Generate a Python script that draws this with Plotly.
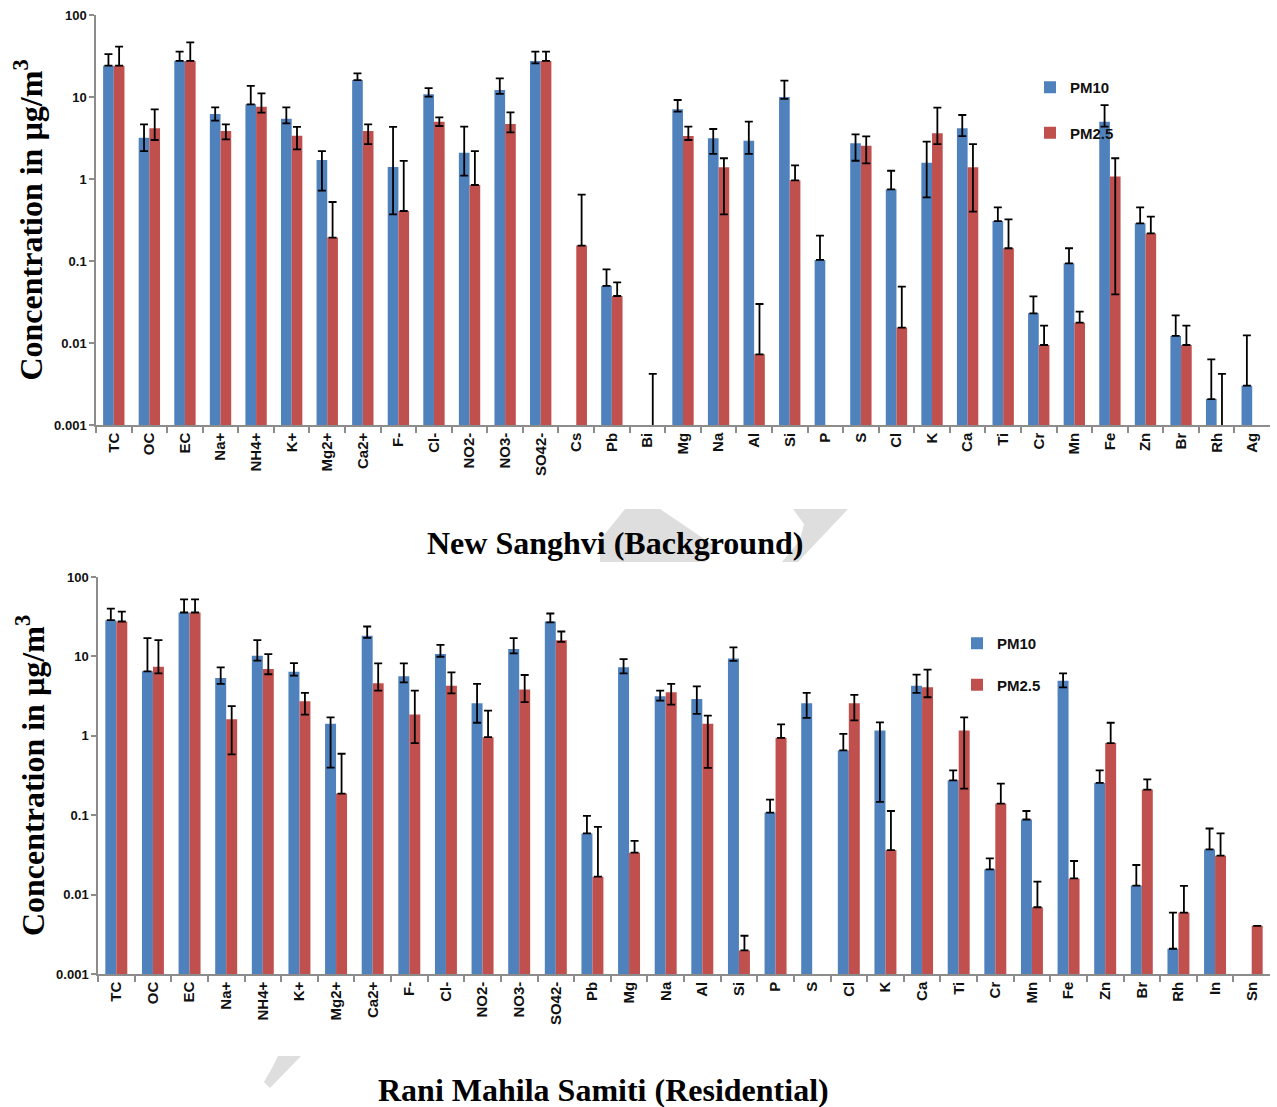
import plotly.graph_objects as go

# ---------------- data: New Sanghvi (Background) ----------------
cats_top = ["TC", "OC", "EC", "Na+", "NH4+", "K+", "Mg2+", "Ca2+", "F-", "Cl-",
            "NO2-", "NO3-", "SO42-", "Cs", "Pb", "Bi", "Mg", "Na", "Al", "Si",
            "P", "S", "Cl", "K", "Ca", "Ti", "Cr", "Mn", "Fe", "Zn", "Br", "Rh", "Ag"]

top_pm10 = [24.1, 3.19, 27.5, 6.21, 8.14, 5.44, 1.71, 16.1, 1.40, 10.8,
            2.09, 12.2, 27.5, None, 0.0496, None, 7.08, 3.13, 2.93, 10.0,
            0.103, 2.72, 0.748, 1.58, 4.15, 0.307, 0.023, 0.0937, 5.0, 0.288, 0.0122, 0.00207, 0.00302]
top_pm10_hi = [33.4, 4.64, 35.7, 7.48, 13.7, 7.48, 2.19, 19.4, 4.31, 12.8,
               4.35, 16.9, 35.7, None, 0.0791, None, 9.19, 4.07, 5.0, 15.8,
               0.204, 3.51, 1.26, 2.85, 6.03, 0.451, 0.0371, 0.143, 7.98, 0.451, 0.0217, 0.00632, 0.0124]
top_pm10_lo = [None, 2.19, None, 5.14, None, 4.78, 0.72, None, 0.371, 10.1,
               1.10, 10.9, 25.7, None, None, None, 6.62, 2.02, 2.02, 9.5,
               None, 1.67, None, 0.598, 3.34, None, None, None, 4.35, None, None, None, None]

top_pm25 = [24.1, 4.15, 27.5, 3.85, 7.62, 3.38, 0.193, 3.85, 0.407, 5.0,
            0.845, 4.69, 27.5, 0.154, 0.0374, 0.0005, 3.34, 1.39, 0.00727, 0.964,
            None, 2.55, 0.0154, 3.61, 1.39, 0.143, 0.00946, 0.0177, 1.07, 0.217, 0.00946, 0.0005, None]
top_pm25_hi = [41.1, 7.08, 46.4, 4.64, 11.1, 4.31, 0.524, 4.64, 1.66, 5.65,
               2.19, 6.5, 35.7, 0.644, 0.055, 0.0042, 4.35, 1.79, 0.0299, 1.47,
               None, 3.31, 0.0486, 7.41, 2.67, 0.322, 0.0163, 0.0241, 1.79, 0.347, 0.0163, 0.0042, None]
top_pm25_lo = [None, 2.99, None, 3.05, 6.44, 2.30, None, 2.67, None, 4.43,
               None, 3.71, None, None, None, None, 2.99, 0.371, None, None,
               None, 1.55, None, 2.67, 0.40, None, None, None, 0.0392, None, None, None, None]

# ---------------- data: Rani Mahila Samiti (Residential) ----------------
cats_bot = ["TC", "OC", "EC", "Na+", "NH4+", "K+", "Mg2+", "Ca2+", "F-", "Cl-",
            "NO2-", "NO3-", "SO42-", "Pb", "Mg", "Na", "Al", "Si", "P", "S",
            "Cl", "K", "Ca", "Ti", "Cr", "Mn", "Fe", "Zn", "Br", "Rh", "In", "Sn"]

bot_pm10 = [28.6, 6.48, 35.7, 5.34, 10.2, 6.42, 1.42, 18.2, 5.61, 10.7,
            2.57, 12.4, 27.5, 0.0589, 7.28, 3.15, 2.91, 9.44, 0.108, 2.57,
            0.655, 1.17, 4.28, 0.275, 0.0208, 0.0883, 4.95, 0.255, 0.013, 0.00208, 0.0371, None]
bot_pm10_hi = [40.0, 17.0, 52.4, 7.28, 16.0, 8.25, 1.71, 23.8, 8.17, 14.0,
               4.5, 17.0, 34.7, 0.098, 9.26, 3.71, 4.2, 13.0, 0.157, 3.47,
               1.06, 1.48, 5.89, 0.367, 0.0286, 0.113, 6.12, 0.367, 0.0236, 0.00594, 0.068, None]
bot_pm10_lo = [None, None, None, 4.5, 8.83, 5.72, 0.397, 17.1, 4.72, 9.9,
               1.46, 10.9, 26.8, None, 6.12, 2.78, 1.89, 8.8, None, 1.68,
               None, 0.147, 3.47, None, None, None, 4.08, None, None, None, None, None]

bot_pm25 = [27.5, 7.41, 35.7, 1.62, 6.93, 2.72, 0.187, 4.58, 1.85, 4.28,
            0.962, 3.82, 16.0, 0.0168, 0.0337, 3.53, 1.42, 0.00198, 0.944, None,
            2.57, 0.0364, 4.08, 1.17, 0.14, 0.00693, 0.016, 0.809, 0.21, 0.00594, 0.0309, 0.00404]
bot_pm25_hi = [36.7, 16.0, 52.4, 2.36, 10.7, 3.47, 0.594, 8.17, 3.71, 6.3,
               2.08, 5.83, 20.6, 0.0714, 0.0476, 4.5, 1.80, 0.00303, 1.39, None,
               3.27, 0.113, 6.8, 1.71, 0.25, 0.0146, 0.0265, 1.46, 0.283, 0.0129, 0.0589, 0.00404]
bot_pm25_lo = [None, 6.12, None, 0.583, 5.96, 1.85, None, 3.71, 0.809, 3.43,
               None, 2.65, 15.2, None, None, 2.47, 0.395, None, None, None,
               1.56, None, 3.06, 0.216, None, None, None, None, None, None, None, None]

y_tickvals = [0.001, 0.01, 0.1, 1, 10, 100]
y_ticktext = ["0.001", "0.01", "0.1", "1", "10", "100"]

series_names = ["PM10", "PM2.5"]
colors = ["#4F81BD", "#C0504D"]

W, H = 1277, 1107


def err_arrays(vals, hi, lo):
    plus, minus = [], []
    for v, h, l in zip(vals, hi, lo):
        if v is None:
            plus.append(0); minus.append(0); continue
        plus.append(h - v if h is not None else 0)
        minus.append(v - l if l is not None else 0)
    return plus, minus


def bar(cats, vals, hi, lo, name, color, xa, ya, legend):
    plus, minus = err_arrays(vals, hi, lo)
    return go.Bar(
        x=cats, y=vals, name=name, xaxis=xa, yaxis=ya, legend=legend,
        legendgroup=legend + name,
        marker=dict(color=color, line=dict(width=0)),
        error_y=dict(type="data", symmetric=False, array=plus, arrayminus=minus,
                     color="black", thickness=1.8, width=4),
    )


fig = go.Figure()
fig.add_trace(bar(cats_top, top_pm10, top_pm10_hi, top_pm10_lo, series_names[0], colors[0], "x", "y", "legend"))
fig.add_trace(bar(cats_top, top_pm25, top_pm25_hi, top_pm25_lo, series_names[1], colors[1], "x", "y", "legend"))
fig.add_trace(bar(cats_bot, bot_pm10, bot_pm10_hi, bot_pm10_lo, series_names[0], colors[0], "x2", "y2", "legend2"))
fig.add_trace(bar(cats_bot, bot_pm25, bot_pm25_hi, bot_pm25_lo, series_names[1], colors[1], "x2", "y2", "legend2"))

axis_gray = "#8c8c8c"
tick_font = dict(family="Liberation Sans, Arial, sans-serif", size=15, color="#111", weight="bold")
ytitle = dict(text="Concentration in µg/m<sup>3</sup>",
              font=dict(family="Liberation Serif, Times New Roman, serif", size=32, color="black", weight="bold"),
              standoff=2)


def xaxis(domain, anchor, n):
    return dict(domain=domain, anchor=anchor, type="category", range=[-0.5, n - 0.5],
                showline=True, linecolor=axis_gray, linewidth=1.5, ticks="outside",
                tickson="boundaries", ticklen=6, tickcolor=axis_gray, tickwidth=1.5,
                tickangle=-90, tickfont=tick_font, showgrid=False, zeroline=False, fixedrange=True)


def yaxis(domain, anchor):
    return dict(domain=domain, anchor=anchor, type="log", range=[-3, 2],
                tickvals=y_tickvals, ticktext=y_ticktext, showline=True, linecolor=axis_gray,
                linewidth=1.5, ticks="outside", ticklen=5, tickcolor=axis_gray, tickwidth=1.5,
                tickfont=dict(family="Liberation Sans, Arial, sans-serif", size=13, color="#111", weight="bold"),
                showgrid=False, zeroline=False, title=ytitle, automargin=False)


legend_font = dict(family="Liberation Sans Narrow, Liberation Sans, Arial, sans-serif", size=15,
                   color="#111", weight="bold")

fig.update_layout(
    width=W, height=H, margin=dict(l=0, r=0, t=0, b=0),
    paper_bgcolor="white", plot_bgcolor="white",
    barmode="group", bargap=0.4, bargroupgap=0.0,
    xaxis=xaxis([96 / W, 1270 / W], "y", len(cats_top)),
    yaxis=yaxis([1 - 425 / H, 1 - 15 / H], "x"),
    xaxis2=xaxis([98 / W, 1270 / W], "y2", len(cats_bot)),
    yaxis2=yaxis([1 - 974 / H, 1 - 577 / H], "x2"),
    legend=dict(x=1030 / W, y=1 - 71 / H, xanchor="left", yanchor="top", bgcolor="rgba(0,0,0,0)",
                font=legend_font, tracegroupgap=23, traceorder="grouped"),
    legend2=dict(x=957 / W, y=1 - 627 / H, xanchor="left", yanchor="top", bgcolor="rgba(0,0,0,0)",
                 font=legend_font, tracegroupgap=19, traceorder="grouped"),
    showlegend=True,
)

# chart captions
cap_font = dict(family="Liberation Serif, Times New Roman, serif", size=32, color="black", weight="bold")
fig.add_annotation(text="New Sanghvi (Background)", x=615 / W, y=1 - 543 / H, xref="paper", yref="paper",
                   showarrow=False, font=cap_font, xanchor="center", yanchor="middle")
fig.add_annotation(text="Rani Mahila Samiti (Residential)", x=603 / W, y=1 - 1090 / H, xref="paper", yref="paper",
                   showarrow=False, font=cap_font, xanchor="center", yanchor="middle")


# faint grey watermark strokes behind the captions
def paper_path(pts):
    segs = [f"{x / W:.5f},{1 - y / H:.5f}" for x, y in pts]
    return "M" + " L".join(segs) + " Z"


watermark = [
    [(600, 540), (625, 509), (660, 509), (716, 547), (705, 562), (600, 562)],
    [(793, 509), (848, 509), (798, 562), (782, 562), (800, 540), (804, 524)],
    [(278, 1056), (301, 1056), (270, 1088), (264, 1082), (272, 1068)],
]
for pts in watermark:
    fig.add_shape(type="path", path=paper_path(pts), xref="paper", yref="paper",
                  fillcolor="#dedede", line=dict(width=0), layer="below")

fig.write_html("out.html")
